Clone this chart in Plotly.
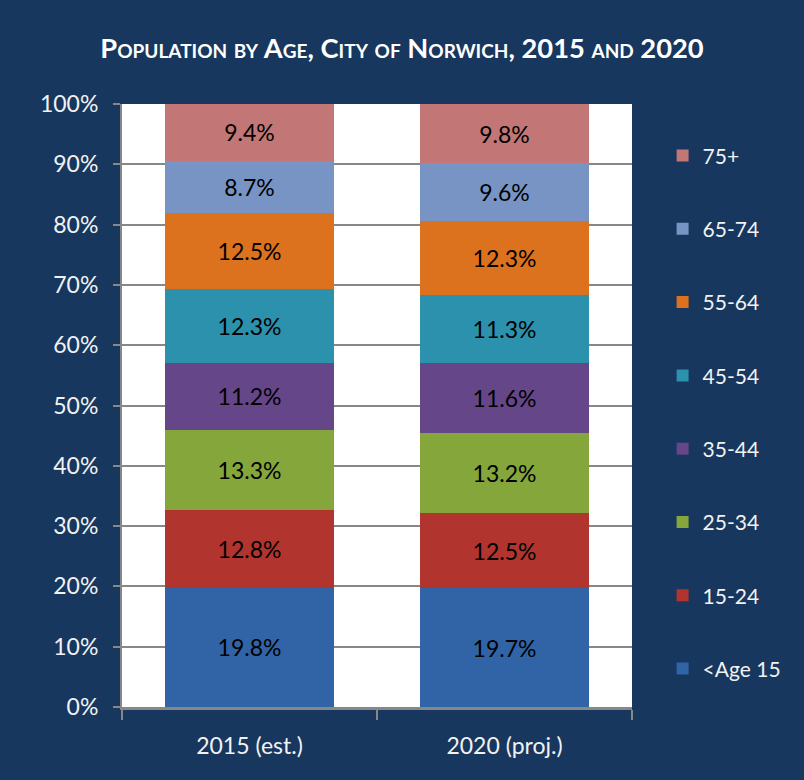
import plotly.graph_objects as go

# Population shares by age group (percent of total)
years = ["2015 (est.)", "2020 (proj.)"]
age_groups = ["<Age 15", "15-24", "25-34", "35-44", "45-54", "55-64", "65-74", "75+"]
share_2015 = [19.8, 12.8, 13.3, 11.2, 12.3, 12.5, 8.7, 9.4]
share_2020 = [19.7, 12.5, 13.2, 11.6, 11.3, 12.3, 9.6, 9.8]
colors = ["#3164A6", "#B2342F", "#84A63A", "#654689", "#2B91AC", "#DC721D", "#7894C4", "#C27676"]
y_ticks = [0, 10, 20, 30, 40, 50, 60, 70, 80, 90, 100]

NAVY = "#17375E"
FONT = "Lato, 'Open Sans', sans-serif"

fig = go.Figure()
for i, grp in enumerate(age_groups):
    vals = [share_2015[i], share_2020[i]]
    fig.add_trace(go.Bar(
        x=years,
        y=vals,
        name=grp,
        legendgroup=grp,
        legendrank=len(age_groups) - i,  # oldest group listed first
        marker=dict(color=colors[i], line=dict(width=0)),
        text=[f"{v:.1f}%" for v in vals],
        textposition="inside",
        insidetextanchor="middle",
        textangle=0,
        textfont=dict(color="#000000", size=23, family=FONT),
        hoverinfo="name+y",
    ))

fig.update_layout(
    width=804,
    height=780,
    barmode="stack",
    bargap=0.34,
    paper_bgcolor=NAVY,
    plot_bgcolor="#FFFFFF",
    margin=dict(l=122, r=172, t=104, b=73),
    font=dict(family=FONT, color="#F2F2F2", size=20),
    title=dict(
        text="<b>Population by Age, City of Norwich, 2015 and 2020</b>",
        x=0.5,
        xanchor="center",
        y=0.938,
        yanchor="middle",
        font=dict(size=27.3, color="#FFFFFF", family=FONT, variant="small-caps"),
    ),
    legend=dict(
        x=1.06,
        xanchor="left",
        y=0.948,
        yanchor="top",
        traceorder="grouped",
        tracegroupgap=43,
        bgcolor="rgba(0,0,0,0)",
        font=dict(size=21, color="#F2F2F2", family=FONT),
    ),
    showlegend=True,
    uniformtext=dict(minsize=10, mode="show"),
)

fig.update_yaxes(
    range=[0, 100],
    tickvals=y_ticks,
    ticktext=[f"{v}%" for v in y_ticks],
    showgrid=True,
    gridcolor="#878787",
    gridwidth=2,
    zeroline=False,
    showline=True,
    linecolor="#878787",
    linewidth=2,
    ticks="outside",
    ticklen=7,
    tickwidth=2,
    tickcolor="#878787",
    ticklabelstandoff=10,
    tickfont=dict(size=23, color="#F2F2F2", family=FONT),
)
fig.update_xaxes(
    showline=True,
    linecolor="#878787",
    linewidth=3,
    ticks="outside",
    tickson="boundaries",
    ticklen=10,
    tickwidth=2,
    tickcolor="#878787",
    tickfont=dict(size=23, color="#F2F2F2", family=FONT),
    ticklabelstandoff=16,
)

fig.write_html("out.html")
